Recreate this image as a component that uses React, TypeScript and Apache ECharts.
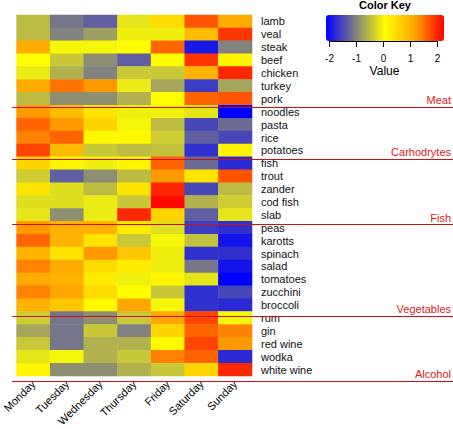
import React, { useEffect, useRef } from "react";
import * as echarts from "echarts";

const days = ["Monday", "Tuesday", "Wednesday", "Thursday", "Friday", "Saturday", "Sunday"];

const foods = [
  "lamb", "veal", "steak", "beef", "chicken", "turkey", "pork",
  "noodles", "pasta", "rice", "potatoes",
  "fish", "trout", "zander", "cod fish", "slab",
  "peas", "karotts", "spinach", "salad", "tomatoes", "zucchini", "broccoli",
  "rum", "gin", "red wine", "wodka", "white wine",
];

const groupNames = ["Meat", "Carhodrytes", "Fish", "Vegetables", "Alcohol"];
const groupLastFood = ["pork", "potatoes", "slab", "broccoli", "white wine"];

const keyTicks = [-2, -1, 0, 1, 2];
const keyMin = -2.11;
const keyMax = 2.26;

const meat = [
  [-0.5, -1.1, -1.3, -0.15, 0.5, 1.7, 1.1],
  [-0.5, -1.0, -0.75, -0.05, -0.05, 0.9, 1.9],
  [1.1, 0, 0, 0.1, 1.6, -1.9, -1.0],
  [0.1, -0.4, -0.9, -1.3, 0.1, 1.9, 0.2],
  [-0.1, -0.6, -1.0, -0.4, -0.4, 1.0, 2.0],
  [1.1, 1.5, 1.25, -0.1, -0.7, -1.6, -0.7],
  [-0.5, -0.9, -0.9, -0.6, 0.1, 1.6, 1.7],
];
const carbs = [
  [1.25, 0.9, 0.4, -0.05, -0.05, -0.15, -2.2],
  [1.6, 1.25, 0.6, 0, -0.5, -1.5, -1.2],
  [1.4, 1.6, 0.15, 0.15, -0.35, -1.3, -1.5],
  [1.8, 0.9, -0.4, -0.5, -0.45, -1.7, 0.2],
];
const fishRows = [
  [0.6, 0.2, -0.05, 0.2, 1.6, -1.2, -1.75],
  [-0.35, -1.3, -0.9, -0.5, 1.25, 0.4, 1.7],
  [0.4, -0.2, -0.5, 0.4, 2.0, -1.5, -0.5],
  [-0.2, -0.2, -0.1, -0.4, 2.2, -0.6, -0.35],
  [-0.15, -0.9, -0.1, 2.0, 0.6, -1.3, -0.15],
];
const vegetables = [
  [1.25, 1.0, 1.0, 0.3, -0.2, -1.6, -1.7],
  [1.6, 1.0, 0.4, -0.4, 0, -0.45, -1.95],
  [1.0, 0.4, 1.25, 0.75, -0.05, -1.7, -1.7],
  [1.4, 1.1, 0.5, 0.3, -0.05, -1.1, -1.95],
  [1.1, 1.0, 0.3, -0.05, 0.2, -0.15, -2.2],
  [1.4, 1.15, 0.5, 0.1, -0.4, -1.7, -1.5],
  [1.0, 0.75, 0.15, 1.15, 0, -1.7, -1.75],
];
const alcohol = [
  [-0.35, -1.1, -0.9, -0.4, 1.15, 1.8, 0],
  [-0.7, -1.1, -0.4, -1.0, 0.6, 1.6, 1.4],
  [-0.4, -1.1, -0.6, -0.6, 0.15, 1.8, 1.25],
  [-0.15, 0, -0.6, -0.4, 1.4, 1.6, -1.75],
  [0.2, -0.9, -0.9, -0.6, -0.4, 0.6, 2.0],
];

const FONT = "'Liberation Sans', Arial, sans-serif";

export default function App() {
  const ref = useRef<HTMLDivElement>(null);
  useEffect(() => {
    if (!ref.current) return;
    const chart = echarts.init(ref.current, null, { renderer: "svg" });
    const rows = [...meat, ...carbs, ...fishRows, ...vegetables, ...alcohol];
    const data: number[][] = [];
    rows.forEach((r, yi) => r.forEach((v, xi) => data.push([xi, yi, v])));

    const gLeft = 12, gTop = 15, gWidth = 240, gHeight = 366;
    const rowH = gHeight / foods.length;

    const graphics: any[] = [];
    groupLastFood.forEach((f, gi) => {
      const idx = foods.indexOf(f);
      const yb = Math.round(gTop + (idx + 1) * rowH) + 0.5;
      graphics.push({
        type: "line",
        shape: { x1: gLeft, y1: yb, x2: 453, y2: yb },
        style: { stroke: "#cc1111", lineWidth: 1 },
        z: 100,
      });
      graphics.push({
        type: "text",
        x: 451,
        y: gTop + (idx + 0.5) * rowH,
        style: {
          text: groupNames[gi],
          fill: "#e02020",
          font: `11px ${FONT}`,
          align: "right",
          verticalAlign: "middle",
        },
        z: 100,
      });
    });

    const keyLeft = 326, keyLen = 118, keyTop = 15, keyThick = 26;
    const keyX = (v: number) => keyLeft + ((v - keyMin) / (keyMax - keyMin)) * keyLen;
    graphics.push({
      type: "text",
      x: keyLeft + keyLen / 2,
      y: 5,
      style: { text: "Color Key", fill: "#000", font: `bold 11px ${FONT}`, align: "center", verticalAlign: "middle" },
    });
    graphics.push({
      type: "line",
      shape: { x1: keyX(keyTicks[0]), y1: keyTop + keyThick + 0.5, x2: keyX(keyTicks[keyTicks.length - 1]), y2: keyTop + keyThick + 0.5 },
      style: { stroke: "#000", lineWidth: 1 },
    });
    keyTicks.forEach((t) => {
      const x = Math.round(keyX(t)) + 0.5;
      graphics.push({
        type: "line",
        shape: { x1: x, y1: keyTop + keyThick, x2: x, y2: keyTop + keyThick + 6 },
        style: { stroke: "#000", lineWidth: 1 },
      });
      graphics.push({
        type: "text",
        x,
        y: 58,
        style: { text: String(t), fill: "#000", font: `10px ${FONT}`, align: "center", verticalAlign: "middle" },
      });
    });
    graphics.push({
      type: "text",
      x: keyLeft + keyLen / 2 - 0.5,
      y: 70.5,
      style: { text: "Value", fill: "#000", font: `12px ${FONT}`, align: "center", verticalAlign: "middle" },
    });

    chart.setOption({
      animation: false,
      textStyle: { fontFamily: FONT },
      grid: { left: gLeft, top: gTop, width: gWidth, height: gHeight, containLabel: false },
      xAxis: {
        type: "category",
        data: days,
        position: "bottom",
        axisLine: { show: false },
        axisTick: { show: false },
        splitLine: { show: false },
        axisLabel: { rotate: 45, fontSize: 11, color: "#000", margin: 6, interval: 0, fontFamily: FONT },
      },
      yAxis: {
        type: "category",
        data: foods,
        inverse: true,
        position: "right",
        axisLine: { show: false },
        axisTick: { show: false },
        splitLine: { show: false },
        axisLabel: { fontSize: 11, color: "#111", margin: 9, interval: 0, fontFamily: FONT, align: "left" },
      },
      visualMap: {
        type: "continuous",
        min: keyMin,
        max: keyMax,
        orient: "horizontal",
        left: keyLeft,
        top: keyTop,
        itemWidth: keyThick,
        itemHeight: keyLen,
        padding: 0,
        calculable: false,
        showLabel: false,
        text: ["", ""],
        inRange: { color: ["#0000ff", "#808080", "#ffff00", "#ffa500", "#ff0000"] },
      },
      graphic: graphics,
      series: [
        {
          type: "heatmap",
          data,
          itemStyle: { borderWidth: 0 },
          emphasis: { disabled: true },
        },
      ],
    });
    return () => chart.dispose();
  }, []);
  return <div ref={ref} style={{ width: 453, height: 429, position: "absolute", left: 0, top: 0 }} />;
}
